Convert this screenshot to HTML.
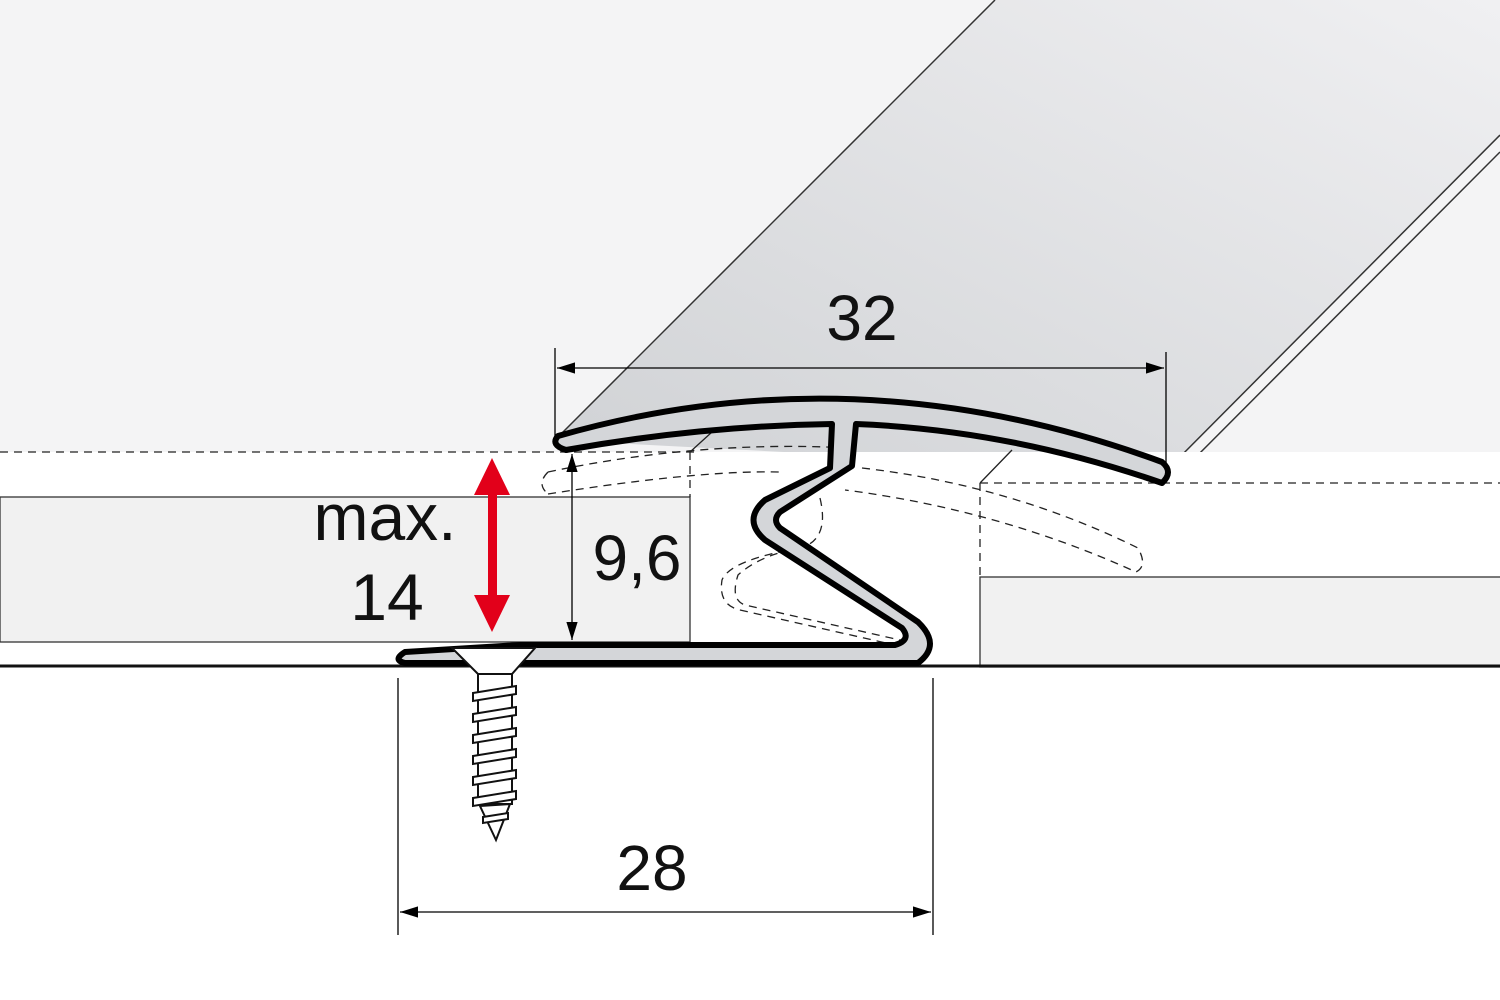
<!DOCTYPE html>
<html><head><meta charset="utf-8"><style>
html,body{margin:0;padding:0;background:#fff}
svg{display:block}
text{font-family:"Liberation Sans",Arial,sans-serif;fill:#111}
</style></head><body>
<svg width="1500" height="1000" viewBox="0 0 1500 1000" xmlns="http://www.w3.org/2000/svg">
<defs>
<linearGradient id="band" x1="0" y1="1" x2="1" y2="0">
<stop offset="0" stop-color="#d0d2d5"/><stop offset="1" stop-color="#f0f0f2"/>
</linearGradient>
<marker id="ah2" viewBox="0 0 16 10" refX="16" refY="5" markerWidth="18" markerHeight="12" orient="auto-start-reverse" markerUnits="userSpaceOnUse">
<path d="M0,0 L16,5 L0,10 Z" fill="#000"/></marker>
</defs>
<rect x="0" y="0" width="1500" height="452" fill="#f4f4f5"/>
<polygon points="555,440 995,0 1500,0 1500,135 1165,472" fill="url(#band)"/>
<line x1="555" y1="440" x2="995" y2="0" stroke="#333" stroke-width="1.5"/>
<line x1="1165" y1="472" x2="1500" y2="135" stroke="#333" stroke-width="1.5"/>
<line x1="1178" y1="475" x2="1500" y2="152" stroke="#333" stroke-width="1.5"/>
<rect x="0" y="452" width="1500" height="213" fill="#fff"/>
<rect x="0" y="497" width="690" height="145" fill="#f1f1f1" stroke="#333" stroke-width="1.3"/>
<rect x="980" y="577" width="530" height="90" fill="#f1f1f1" stroke="#333" stroke-width="1.3"/>
<line x1="0" y1="666" x2="1500" y2="666" stroke="#111" stroke-width="3"/>
<g stroke="#222" stroke-width="1.3" stroke-dasharray="8,6" fill="none">
<line x1="0" y1="452" x2="700" y2="452"/>
<line x1="980" y1="483" x2="1500" y2="483"/>
<line x1="980" y1="483" x2="980" y2="577"/>
<line x1="690" y1="452" x2="690" y2="497"/>
<path d="M548,472 Q700,440 850,448"/>
<path d="M548,494 Q700,470 780,472"/>
<path d="M548,472 Q536,484 548,494"/>
<path d="M862,468 Q1010,485 1138,548 Q1148,566 1136,572 Q1000,510 845,490"/>
<path d="M820,498 Q830,540 800,548 Q760,555 738,575 Q730,600 745,605 L900,640"/>
<path d="M800,548 Q730,560 722,580 Q718,605 740,610"/>
<path d="M740,610 L895,645"/>
</g>
<g stroke="#222" stroke-width="1.3" fill="none">
<line x1="690" y1="452" x2="712" y2="432"/>
<line x1="980" y1="483" x2="1012" y2="450"/>
</g>
<path d="M558,436 Q858,350 1162,462 Q1174,472 1162,483 Q1010,430 856,424 L852,466 L780,512 Q772,520 780,528 L918,622 Q942,645 918,663 L405,663 Q392,660 405,652 L520,645 L895,645 Q912,640 902,628 L765,540 Q742,520 765,500 L830,468 L832,424 Q700,426 566,450 Q550,445 558,436 Z" fill="#d4d6d9" stroke="#000" stroke-width="6" stroke-linejoin="round"/>
<g stroke="#111" stroke-width="2" fill="#fff">
<polygon points="452,648 535,648 512,674 478,674"/>
<rect x="478" y="674" width="34" height="130"/>
<polygon points="473,693 516,686 516,694 473,701"/>
<polygon points="473,714 516,707 516,715 473,722"/>
<polygon points="473,735 516,728 516,736 473,743"/>
<polygon points="473,756 516,749 516,757 473,764"/>
<polygon points="473,777 516,770 516,778 473,785"/>
<polygon points="473,798 516,791 516,799 473,806"/>
<polygon points="480,806 510,804 496,840"/>
<polygon points="483,817 508,813 508,819 483,823"/>
</g>
<g stroke="#000" stroke-width="1.3">
<line x1="555" y1="348" x2="555" y2="440"/>
<line x1="1166" y1="352" x2="1166" y2="465"/>
<line x1="557" y1="368" x2="1164" y2="368" marker-start="url(#ah2)" marker-end="url(#ah2)"/>
<line x1="572" y1="454" x2="572" y2="640" marker-start="url(#ah2)" marker-end="url(#ah2)"/>
<line x1="398" y1="678" x2="398" y2="935"/>
<line x1="933" y1="678" x2="933" y2="935"/>
<line x1="400" y1="912" x2="931" y2="912" marker-start="url(#ah2)" marker-end="url(#ah2)"/>
</g>
<rect x="488" y="490" width="9" height="110" fill="#e2001a"/>
<polygon points="492,458 474,495 510,495" fill="#e2001a"/>
<polygon points="492,632 474,595 510,595" fill="#e2001a"/>
<text x="862" y="340" font-size="64" text-anchor="middle">32</text>
<text x="637" y="580" font-size="64" text-anchor="middle">9,6</text>
<text x="385" y="540" font-size="66" text-anchor="middle">max.</text>
<text x="387" y="620" font-size="66" text-anchor="middle">14</text>
<text x="652" y="890" font-size="64" text-anchor="middle">28</text>
</svg>
</body></html>
